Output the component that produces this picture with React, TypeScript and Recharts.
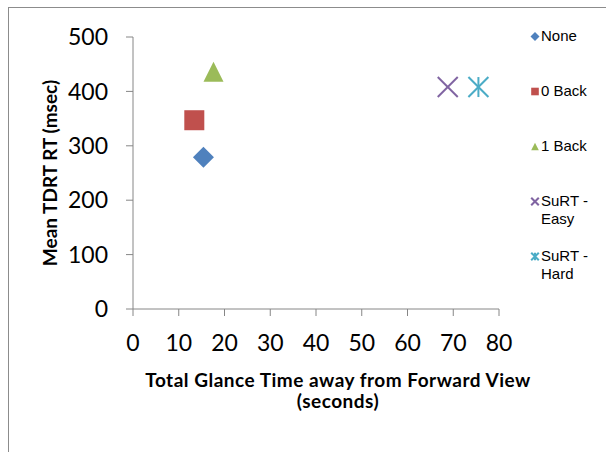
import React from "react";
import { ScatterChart, Scatter, XAxis, YAxis } from "recharts";

const seriesNames = ["None", "0 Back", "1 Back", "SuRT - Easy", "SuRT - Hard"];
const legendLines = [["None"], ["0 Back"], ["1 Back"], ["SuRT -", "Easy"], ["SuRT -", "Hard"]];
const glanceTime = [15.4, 13.4, 17.6, 68.8, 75.5];
const tdrtRt = [279, 347, 436, 408, 408];
const seriesColors = ["#4F81BD", "#C0504D", "#9BBB59", "#8064A2", "#4BACC6"];
const markerKinds = ["diamond", "square", "triangle", "x", "star"];
const xTicks = [0, 10, 20, 30, 40, 50, 60, 70, 80];
const yTicks = [0, 100, 200, 300, 400, 500];

const AXIS = "#868686";
const CAL = "Lato, 'Open Sans', sans-serif";

function marker(kind: string, color: string, r: number, cx: number, cy: number, sw: number) {
    if (kind === "diamond") {
        return <polygon points={`${cx},${cy - r} ${cx + r},${cy} ${cx},${cy + r} ${cx - r},${cy}`} fill={color} />;
    }
    if (kind === "square") {
        return <rect x={cx - r} y={cy - r} width={2 * r} height={2 * r} fill={color} />;
    }
    if (kind === "triangle") {
        return <polygon points={`${cx},${cy - r} ${cx + r},${cy + r} ${cx - r},${cy + r}`} fill={color} />;
    }
    if (kind === "x") {
        return (
            <g stroke={color} strokeWidth={sw}>
                <line x1={cx - r} y1={cy - r} x2={cx + r} y2={cy + r} />
                <line x1={cx - r} y1={cy + r} x2={cx + r} y2={cy - r} />
            </g>
        );
    }
    return (
        <g stroke={color} strokeWidth={sw}>
            <line x1={cx - r} y1={cy - r} x2={cx + r} y2={cy + r} />
            <line x1={cx - r} y1={cy + r} x2={cx + r} y2={cy - r} />
            <line x1={cx} y1={cy - r} x2={cx} y2={cy + r} />
        </g>
    );
}

const makeShape = (i: number) => (props: any) => {
    const { cx, cy } = props;
    const kind = markerKinds[i];
    const r = kind === "diamond" ? 10.5 : 10;
    return marker(kind, seriesColors[i], r, cx, cy, 2);
};

// x title sits under the axis, centred on the reference's title (not on the plot)
const xLabel = () => (
    <text textAnchor="middle" fontFamily={CAL} fontWeight="bold" fontSize={19} letterSpacing={0.5} fill="#000">
        <tspan x={338} y={387}>Total Glance Time away from Forward View</tspan>
        <tspan x={338} y={408}>(seconds)</tspan>
    </text>
);

const yLabel = () => (
    <text
        x={49}
        y={173}
        textAnchor="middle"
        dominantBaseline="central"
        transform="rotate(-90 49 173)"
        fontFamily={CAL}
        fontWeight="bold"
        fontSize={19}
        fill="#000"
    >
        Mean TDRT RT (msec)
    </text>
);

export default function App() {
    return (
        <div style={{ position: "absolute", left: 0, top: 0, width: 606, height: 452, overflow: "hidden", background: "#fff" }}>
            <div style={{ position: "absolute", left: 8, top: 7, width: 700, height: 500, border: "1px solid #8c8c8c" }} />
            <div style={{ position: "absolute", left: 0, top: 0 }}>
                <ScatterChart width={606} height={452} margin={{ top: 37, right: 107, bottom: 113, left: 0 }}>
                    <XAxis
                        type="number"
                        dataKey="x"
                        domain={[0, 80]}
                        ticks={xTicks}
                        interval={0}
                        height={30}
                        stroke={AXIS}
                        tickSize={7}
                        tickMargin={19}
                        tick={{ fill: "#000", fontSize: 23, fontFamily: CAL }}
                        label={{ content: xLabel }}
                    />
                    <YAxis
                        type="number"
                        dataKey="y"
                        domain={[0, 500]}
                        ticks={yTicks}
                        interval={0}
                        width={133}
                        stroke={AXIS}
                        tickSize={7}
                        tickMargin={18}
                        tick={{ fill: "#000", fontSize: 23, fontFamily: CAL }}
                        label={{ content: yLabel }}
                    />
                    {seriesNames.map((name, i) => (
                        <Scatter
                            key={name}
                            name={name}
                            data={[{ x: glanceTime[i], y: tdrtRt[i] }]}
                            fill={seriesColors[i]}
                            shape={makeShape(i)}
                            isAnimationActive={false}
                        />
                    ))}
                </ScatterChart>
            </div>
            {seriesNames.map((name, i) => (
                <div
                    key={name}
                    style={{
                        position: "absolute",
                        left: 529,
                        top: 27 + 55 * i,
                        fontFamily: "'Liberation Sans', Arial, sans-serif",
                        fontSize: 15,
                        lineHeight: "18px",
                        color: "#000",
                    }}
                >
                    <svg width={12} height={18} style={{ position: "absolute", left: 0, top: 0 }}>
                        {marker(markerKinds[i], seriesColors[i], markerKinds[i] === "diamond" ? 4.5 : 3.8, 6, 9.5, 2)}
                    </svg>
                    <div style={{ position: "absolute", left: 12, top: 0, whiteSpace: "nowrap" }}>
                        {legendLines[i].map((line) => (
                            <div key={line}>{line}</div>
                        ))}
                    </div>
                </div>
            ))}
        </div>
    );
}
